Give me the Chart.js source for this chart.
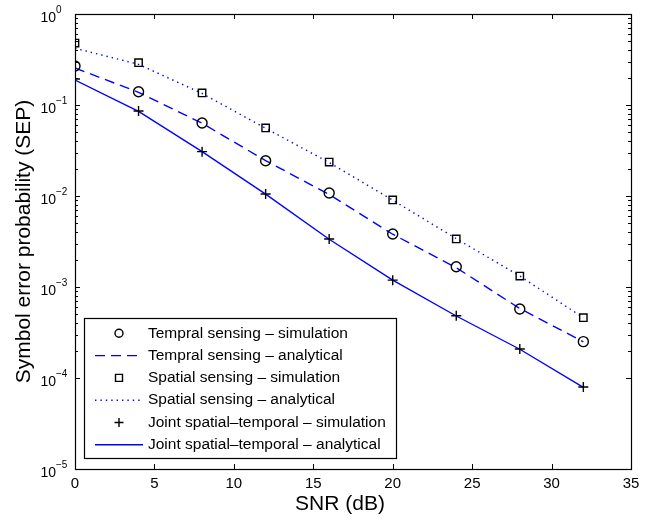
<!DOCTYPE html>
<html>
<head>
<meta charset="utf-8">
<script src="https://cdn.jsdelivr.net/npm/chart.js@4"></script>
<style>
  body { margin: 0; background: #fff; }
  #wrap { width: 663px; height: 520px; }
</style>
</head>
<body>
<div id="wrap"><canvas id="myChart" width="663" height="520"></canvas></div>
<script>
// SNR points (dB)
var snr = [0, 4, 8, 12, 16, 20, 24, 28, 32];

// symbol error probability
var temporalSim  = [0.268, 0.140, 0.0634, 0.0244, 0.0108, 0.00382, 0.00167, 0.000573, 0.000251];
var temporalAna  = [0.255, 0.138, 0.063, 0.0245, 0.0104, 0.0038, 0.00163, 0.00058, 0.00025];
var spatialSim   = [0.48, 0.292, 0.1355, 0.0559, 0.0236, 0.00904, 0.00337, 0.00132, 0.00046];
var spatialAna   = [0.42, 0.28, 0.134, 0.0555, 0.0233, 0.0090, 0.0034, 0.00132, 0.00046];
var jointSim     = [0.193, 0.0859, 0.0307, 0.0105, 0.00337, 0.00119, 0.000484, 0.000208, 0.0000796];
var jointAna     = [0.188, 0.085, 0.0307, 0.0105, 0.00335, 0.00119, 0.00048, 0.000207, 0.000079];

var xTicks = [0, 5, 10, 15, 20, 25, 30, 35];
var yDecades = [0, -1, -2, -3, -4, -5];

var legendNames = [
    'Tempral sensing \u2013 simulation',
    'Tempral sensing \u2013 analytical',
    'Spatial sensing \u2013 simulation',
    'Spatial sensing \u2013 analytical',
    'Joint spatial\u2013temporal \u2013 simulation',
    'Joint spatial\u2013temporal \u2013 analytical'
];

var FONT = '"Liberation Sans", Arial, Helvetica, sans-serif';
var BLUE = 'rgb(0,0,255)';

function pts(ys) {
    return snr.map(function (x, i) { return {x: x, y: ys[i]}; });
}

function marker(name, ys, style, r) {
    return {
        label: name, data: pts(ys), showLine: false,
        pointStyle: style, pointRadius: r, pointHoverRadius: r,
        pointBorderColor: '#000', pointBackgroundColor: 'rgba(0,0,0,0)',
        pointBorderWidth: 1.4, borderColor: '#000'
    };
}

function curve(name, ys, dash) {
    return {
        label: name, data: pts(ys), borderColor: BLUE, borderWidth: 1.4,
        borderDash: dash, pointRadius: 0, fill: false, tension: 0
    };
}

// inward ticks, box, y tick labels, x title and the legend inside the plot
var matlabAxes = {
    id: 'matlabAxes',
    afterDraw: function (chart) {
        var ctx = chart.ctx, a = chart.chartArea;
        var xs = chart.scales.x, ys = chart.scales.y;
        ctx.save();
        ctx.strokeStyle = '#000';
        ctx.lineWidth = 1.2;
        ctx.strokeRect(Math.round(a.left) + 0.5, Math.round(a.top) + 0.5,
            Math.round(a.right - a.left), Math.round(a.bottom - a.top));

        ctx.lineWidth = 1;
        ctx.beginPath();
        xTicks.forEach(function (v) {
            var px = Math.round(xs.getPixelForValue(v)) + 0.5;
            ctx.moveTo(px, a.bottom); ctx.lineTo(px, a.bottom - 5);
            ctx.moveTo(px, a.top); ctx.lineTo(px, a.top + 5);
        });
        yDecades.forEach(function (e) {
            for (var m = 1; m <= 9; m++) {
                var v = m * Math.pow(10, e);
                if (v > 1 || (e === -5 && m > 1)) continue;
                var py = Math.round(ys.getPixelForValue(v)) + 0.5;
                var len = m === 1 ? 5 : 3;
                ctx.moveTo(a.left, py); ctx.lineTo(a.left + len, py);
                ctx.moveTo(a.right, py); ctx.lineTo(a.right - len, py);
            }
        });
        ctx.stroke();

        // y tick labels 10^e
        ctx.fillStyle = '#000';
        yDecades.forEach(function (e) {
            var py = ys.getPixelForValue(Math.pow(10, e));
            ctx.font = '14px ' + FONT;
            ctx.textAlign = 'right';
            ctx.textBaseline = 'alphabetic';
            ctx.fillText('10', a.left - 19, py + 8);
            ctx.font = '10px ' + FONT;
            ctx.textAlign = 'left';
            ctx.fillText(e === 0 ? '0' : '\u2212' + (-e), a.left - 19, py - 1);
        });

        // x axis title
        ctx.font = '21px ' + FONT;
        ctx.textAlign = 'center';
        ctx.textBaseline = 'middle';
        ctx.fillText('SNR (dB)', a.left + 265, 504);

        // legend
        var lx = a.left + 9, ly = a.bottom - 151, lw = 312, lh = 140;
        ctx.fillStyle = '#fff';
        ctx.fillRect(lx, ly, lw, lh);
        ctx.strokeStyle = '#000';
        ctx.lineWidth = 1.2;
        ctx.strokeRect(Math.round(lx) + 0.5, Math.round(ly) + 0.5, lw, lh);
        chart.data.datasets.forEach(function (ds, i) {
            var cy = ly + 15.3 + i * 22.3;
            var sx0 = lx + 11, sx1 = lx + 59, cx = lx + 35;
            if (ds.showLine === false) {
                var st = ds.pointStyle;
                ctx.strokeStyle = '#000';
                ctx.lineWidth = 1.4;
                ctx.beginPath();
                if (st === 'circle') {
                    ctx.arc(cx, cy, 4, 0, Math.PI * 2);
                } else if (st === 'rect') {
                    ctx.rect(cx - 3.5, cy - 3.5, 7, 7);
                } else {
                    ctx.moveTo(cx - 4.5, cy); ctx.lineTo(cx + 4.5, cy);
                    ctx.moveTo(cx, cy - 4.5); ctx.lineTo(cx, cy + 4.5);
                }
                ctx.stroke();
            } else {
                ctx.strokeStyle = BLUE;
                ctx.lineWidth = 1.4;
                ctx.setLineDash(ds.borderDash || []);
                ctx.beginPath();
                ctx.moveTo(sx0, cy); ctx.lineTo(sx1, cy);
                ctx.stroke();
                ctx.setLineDash([]);
            }
            ctx.fillStyle = '#000';
            ctx.font = '15.5px ' + FONT;
            ctx.textAlign = 'left';
            ctx.textBaseline = 'middle';
            ctx.fillText(legendNames[i], lx + 64, cy);
        });
        ctx.restore();
    }
};

var ctx = document.getElementById('myChart').getContext('2d');
var myChart = new Chart(ctx, {
    type: 'line',
    data: {
        datasets: [
            marker(legendNames[0], temporalSim, 'circle', 5),
            curve(legendNames[1], temporalAna, [10, 6]),
            marker(legendNames[2], spatialSim, 'rect', 5.2),
            curve(legendNames[3], spatialAna, [1.4, 4]),
            marker(legendNames[4], jointSim, 'cross', 5),
            curve(legendNames[5], jointAna, [])
        ]
    },
    options: {
        responsive: false,
        animation: false,
        layout: { padding: { left: 0, right: 32, top: 14, bottom: 0 } },
        plugins: { legend: { display: false }, tooltip: { enabled: false } },
        scales: {
            x: {
                type: 'linear', min: 0, max: 35,
                afterBuildTicks: function (s) { s.ticks = xTicks.map(function (v) { return {value: v}; }); },
                afterFit: function (s) { s.height = 51; },
                grid: { display: false, drawTicks: false },
                border: { display: false },
                ticks: { color: '#000', font: { family: FONT, size: 15 }, padding: 6, maxRotation: 0 },
                title: { display: false }
            },
            y: {
                type: 'logarithmic', min: 1e-5, max: 1,
                afterFit: function (s) { s.width = 75; },
                grid: { display: false, drawTicks: false },
                border: { display: false },
                ticks: { display: false },
                title: { display: true, text: 'Symbol error probability (SEP)', color: '#000',
                         font: { family: FONT, size: 21 }, padding: { top: 12, bottom: 0 } }
            }
        }
    },
    plugins: [matlabAxes]
});
</script>
</body>
</html>
